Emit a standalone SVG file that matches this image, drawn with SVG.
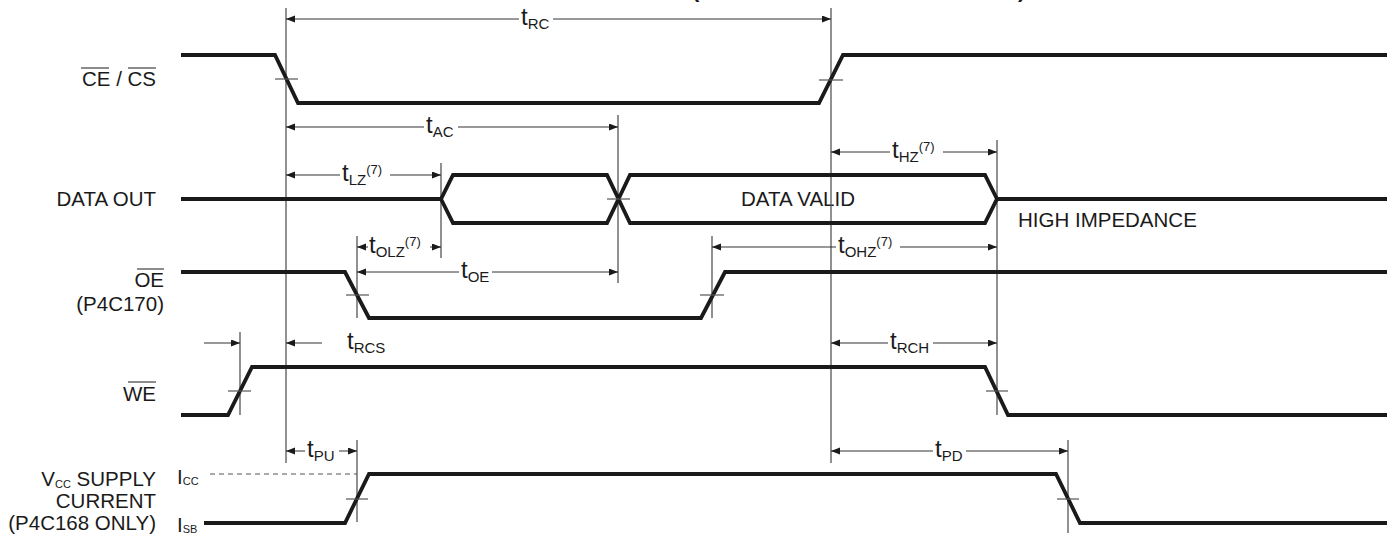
<svg xmlns="http://www.w3.org/2000/svg" width="1390" height="538" viewBox="0 0 1390 538">
<style>
text{font-family:"Liberation Sans",Arial,sans-serif;fill:#1a1a1a}
.lbl{font-size:20.5px}
.t{font-size:24px}
.sub{font-size:15px}
.sup{font-size:13px}
.tiny{font-size:11px}
.sig{fill:none;stroke:#1a1a1a;stroke-width:3.8;stroke-linejoin:miter}
.vl{stroke:#555;stroke-width:1.3;fill:none}
.tick{stroke:#555;stroke-width:1.2}
.dim{stroke:#333;stroke-width:1;fill:none;marker-end:url(#ah)}
.ovl{stroke:#1a1a1a;stroke-width:1}
.dash{stroke:#555;stroke-width:1;stroke-dasharray:5 4;fill:none}
</style>
<defs>
<marker id="ah" markerUnits="userSpaceOnUse" markerWidth="10" markerHeight="8" refX="9" refY="3.5" orient="auto">
<path d="M0,0 L9,3.5 L0,7 z" fill="#1a1a1a"/>
</marker>
</defs>
<rect width="1390" height="538" fill="#fff"/>

<g id="title">
<text x="692" y="-3" style="font-size:22px;font-weight:bold">(</text>
<text x="1018" y="-3" style="font-size:22px;font-weight:bold">)</text>
</g>

<g id="labels">
<g id="lbl-ce">
<text class="lbl" x="156" y="86" text-anchor="end">CE / CS</text>
<line class="ovl" x1="81" y1="68" x2="109" y2="68"/>
<line class="ovl" x1="128" y1="68" x2="156" y2="68"/>
</g>
<text id="lbl-dataout" class="lbl" x="156" y="206" text-anchor="end">DATA OUT</text>
<g id="lbl-oe">
<text class="lbl" x="164" y="287" text-anchor="end">OE</text>
<line class="ovl" x1="137" y1="269" x2="164" y2="269"/>
<text class="lbl" x="164" y="311" text-anchor="end">(P4C170)</text>
</g>
<g id="lbl-we">
<text class="lbl" x="156" y="401" text-anchor="end">WE</text>
<line class="ovl" x1="128" y1="382" x2="156" y2="382"/>
</g>
<g id="lbl-vcc">
<text class="lbl" x="156" y="486" text-anchor="end">V<tspan class="tiny" dy="2">CC</tspan><tspan dy="-2"> SUPPLY</tspan></text>
<text class="lbl" x="156" y="508" text-anchor="end">CURRENT</text>
<text class="lbl" x="156" y="530" text-anchor="end">(P4C168 ONLY)</text>
<text class="lbl" x="177" y="484">I<tspan class="tiny" dy="1">CC</tspan></text>
<text class="lbl" x="177" y="532">I<tspan class="tiny" dy="1">SB</tspan></text>
</g>
<text id="lbl-valid" class="lbl" x="798" y="206" text-anchor="middle">DATA VALID</text>
<text id="lbl-hiz" class="lbl" x="1018" y="227">HIGH IMPEDANCE</text>
</g>

<g id="guides">
<line class="vl" x1="286" y1="8" x2="286" y2="463"/>
<line class="vl" x1="831" y1="8" x2="831" y2="463"/>
<line class="vl" x1="618" y1="115" x2="618" y2="283"/>
<line class="vl" x1="997" y1="140" x2="997" y2="415"/>
<line class="vl" x1="441" y1="163" x2="441" y2="258"/>
<line class="vl" x1="357" y1="236" x2="357" y2="318"/>
<line class="vl" x1="712" y1="236" x2="712" y2="318"/>
<line class="vl" x1="240" y1="332" x2="240" y2="415"/>
<line class="vl" x1="357" y1="440" x2="357" y2="522"/>
<line class="vl" x1="1068" y1="440" x2="1068" y2="533"/>
<path class="dash" d="M210,474 H357"/>
</g>

<g id="signals">
<path id="sig-ce" class="sig" d="M181,55 H275 L298,103 H819 L843,55 H1387"/>
<path id="sig-data" class="sig" d="M181,199 H441 L453,175 H607 L630,223 H985 L997,199 H1387 M441,199 L453,223 H607 L630,175 H985 L997,199"/>
<path id="sig-oe" class="sig" d="M181,272 H345 L369,318 H701 L725,272 H1387"/>
<path id="sig-we" class="sig" d="M181,415 H228 L252,367 H985 L1008,415 H1387"/>
<path id="sig-vcc" class="sig" d="M204,523 H345 L369,474 H1056 L1080,523 H1387"/>
</g>

<g id="ticks">
<line class="tick" x1="275" y1="79" x2="298" y2="79"/>
<line class="tick" x1="819" y1="80" x2="843" y2="80"/>
<line class="tick" x1="607" y1="199" x2="630" y2="199"/>
<line class="tick" x1="346" y1="295" x2="369" y2="295"/>
<line class="tick" x1="700" y1="295" x2="724" y2="295"/>
<line class="tick" x1="228" y1="391" x2="251" y2="391"/>
<line class="tick" x1="986" y1="391" x2="1008" y2="391"/>
<line class="tick" x1="346" y1="499" x2="368" y2="499"/>
<line class="tick" x1="1057" y1="499" x2="1079" y2="499"/>
</g>

<g id="connectors">
<path class="dim" d="M519,19 H286"/><path class="dim" d="M553,19 H831"/>
<text x="521" y="25"><tspan class="t">t</tspan><tspan class="sub" dy="4">RC</tspan></text>
<path class="dim" d="M424,127 H286"/><path class="dim" d="M458,127 H618"/>
<text x="426" y="133"><tspan class="t">t</tspan><tspan class="sub" dy="4">AC</tspan></text>
<path class="dim" d="M890,152 H831"/><path class="dim" d="M943,152 H997"/>
<text x="892" y="158"><tspan class="t">t</tspan><tspan class="sub" dy="4">HZ</tspan><tspan class="sup" dy="-11">(7)</tspan></text>
<path class="dim" d="M340,175 H286"/><path class="dim" d="M390,175 H441"/>
<text x="342" y="181"><tspan class="t">t</tspan><tspan class="sub" dy="4">LZ</tspan><tspan class="sup" dy="-11">(7)</tspan></text>
<path class="dim" d="M368,247 H357"/><path class="dim" d="M430,247 H441"/>
<text x="369" y="253"><tspan class="t">t</tspan><tspan class="sub" dy="4">OLZ</tspan><tspan class="sup" dy="-11">(7)</tspan></text>
<path class="dim" d="M836,247 H712"/><path class="dim" d="M900,247 H997"/>
<text x="838" y="253"><tspan class="t">t</tspan><tspan class="sub" dy="4">OHZ</tspan><tspan class="sup" dy="-11">(7)</tspan></text>
<path class="dim" d="M459,272 H357"/><path class="dim" d="M492,272 H618"/>
<text x="461" y="278"><tspan class="t">t</tspan><tspan class="sub" dy="4">OE</tspan></text>
<path class="dim" d="M204,343 H240"/><path class="dim" d="M322,343 H286"/>
<text x="347" y="349"><tspan class="t">t</tspan><tspan class="sub" dy="4">RCS</tspan></text>
<path class="dim" d="M888,343 H831"/><path class="dim" d="M933,343 H997"/>
<text x="890" y="349"><tspan class="t">t</tspan><tspan class="sub" dy="4">RCH</tspan></text>
<path class="dim" d="M305,451 H286"/><path class="dim" d="M339,451 H357"/>
<text x="307" y="457"><tspan class="t">t</tspan><tspan class="sub" dy="4">PU</tspan></text>
<path class="dim" d="M933,451 H831"/><path class="dim" d="M966,451 H1068"/>
<text x="935" y="457"><tspan class="t">t</tspan><tspan class="sub" dy="4">PD</tspan></text>
</g>
</svg>
